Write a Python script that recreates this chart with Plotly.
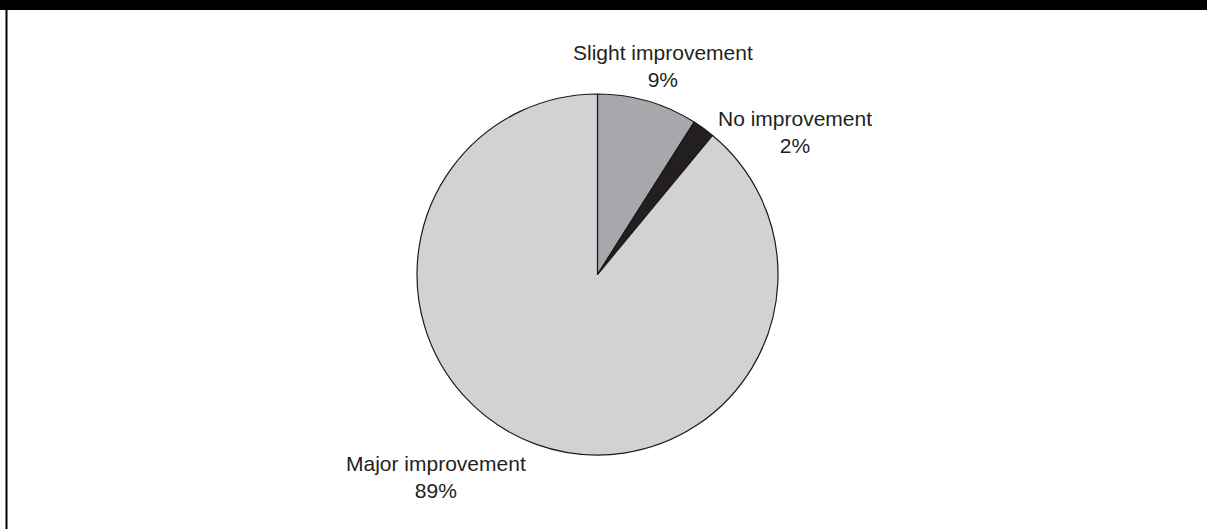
import plotly.graph_objects as go

# Survey responses, in clockwise order from 12 o'clock
categories = ["Slight improvement", "No improvement", "Major improvement"]
shares = [9, 2, 89]
slice_colors = ["#a7a8ab", "#231f20", "#d1d2d4"]

# Label anchor points (paper coordinates) for each category
label_x = [0.5493, 0.6587, 0.3612]
label_y = [0.875, 0.7514, 0.0983]

W, H = 1207, 529
cx, cy, r = 597.5, 274.5, 180.5

fig = go.Figure(
    go.Pie(
        labels=categories,
        values=shares,
        sort=False,
        direction="clockwise",
        rotation=0,
        textinfo="none",
        hoverinfo="label+percent",
        marker=dict(colors=slice_colors, line=dict(color="#1a1a1a", width=1.2)),
        domain=dict(
            x=[(cx - r) / W, (cx + r) / W],
            y=[(H - cy - r) / H, (H - cy + r) / H],
        ),
        showlegend=False,
    )
)

for name, val, x, y in zip(categories, shares, label_x, label_y):
    fig.add_annotation(
        x=x, y=y, xref="paper", yref="paper",
        text=f"{name}<br>{val}%",
        showarrow=False, xanchor="center", yanchor="middle",
        align="center",
        font=dict(family="Liberation Sans, Arial, sans-serif", size=21, color="#231f20"),
    )

# Black header strip and left frame rule
fig.add_shape(type="rect", xref="paper", yref="paper",
              x0=0, x1=1, y0=(H - 10) / H, y1=1,
              fillcolor="#000000", line=dict(width=0), layer="above")
fig.add_shape(type="line", xref="paper", yref="paper",
              x0=6.5 / W, x1=6.5 / W, y0=0, y1=(H - 10) / H,
              line=dict(color="#000000", width=2))

fig.update_layout(
    width=W, height=H,
    margin=dict(l=0, r=0, t=0, b=0),
    paper_bgcolor="#ffffff",
    plot_bgcolor="#ffffff",
)

fig.write_html("out.html")
